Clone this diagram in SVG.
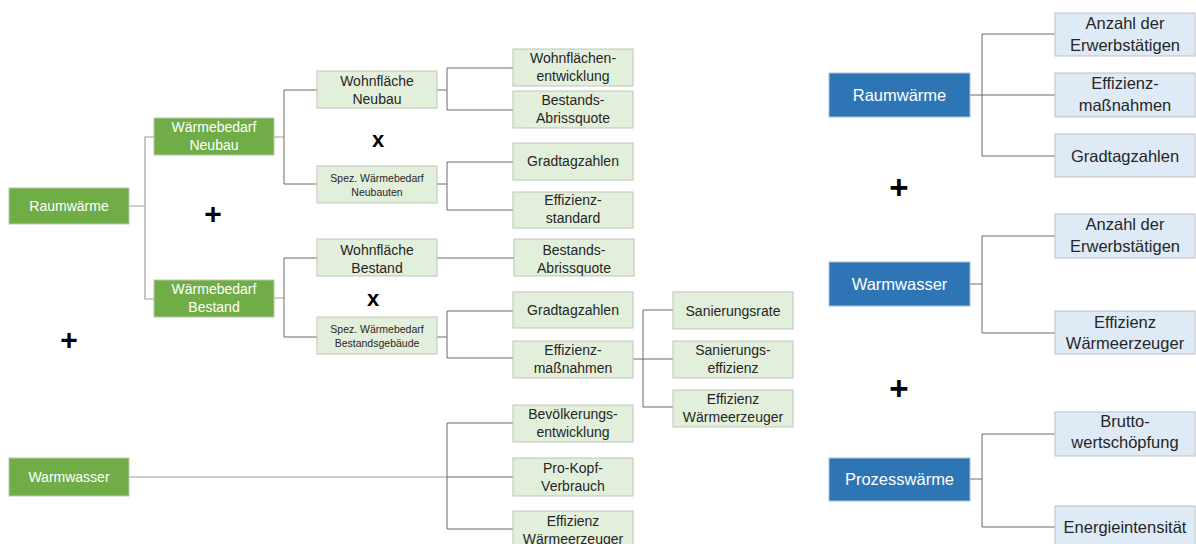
<svg xmlns="http://www.w3.org/2000/svg" width="1196" height="544" viewBox="0 0 1196 544">
<style>
.g{fill:#70AD47;stroke:#B5C9A6;stroke-width:1}
.lg{fill:#E2EFDA;stroke:#BFC4BB;stroke-width:1}
.b{fill:#2E75B6;stroke:#A9C1DA;stroke-width:1}
.lb{fill:#DEEBF7;stroke:#BCC2C8;stroke-width:1}
text{font-family:"Liberation Sans",Arial,sans-serif;text-anchor:middle}
.tw{fill:#FFFFFF;font-size:14px}
.tW{fill:#FFFFFF;font-size:16.5px}
.td{fill:#262626;font-size:14px}
.ts{fill:#262626;font-size:10.5px}
.tD{fill:#262626;font-size:16.5px}
.op{fill:#000000;font-weight:bold}
.c{fill:none;stroke:#6B6B6B;stroke-width:1}
.c2{fill:none;stroke:#A0A0A0;stroke-width:1.2}
</style>
<rect width="1196" height="544" fill="#FFFFFF"/>
<g id="connectors">
<path class="c2" d="M129,206 H145 M154,137 H145 V299 H154"/>
<path class="c2" d="M274,137 H284 M274,298 H284"/>
<path class="c" d="M317,90 H284 V184 H317"/>
<path class="c" d="M437,90 H447 M513,68 H447 V110 H513"/>
<path class="c" d="M437,184 H447 M513,162 H447 V210 H513"/>
<path class="c" d="M317,258 H284 V337 H317"/>
<path class="c" d="M437,258 H514"/>
<path class="c" d="M437,337 H447 M513,311 H447 V358 H513"/>
<path class="c" d="M633,359 H673 M673,310 H643 V407 H673"/>
<path class="c2" d="M129,477 H447"/>
<path class="c" d="M447,477 H513 M513,423 H447 V529 H513"/>
<path class="c" d="M970,95 H1055 M1055,34 H982 V156 H1055"/>
<path class="c" d="M970,284 H982 M1055,236 H982 V333 H1055"/>
<path class="c" d="M970,479 H982 M1055,434 H982 V527 H1055"/>
</g>
<g id="ops">
<text class="op" x="213" y="224" font-size="30">+</text>
<text class="op" x="69" y="350" font-size="30">+</text>
<text class="op" x="899" y="199" font-size="33">+</text>
<text class="op" x="899" y="400" font-size="33">+</text>
<text class="op" x="378" y="147" font-size="22">x</text>
<text class="op" x="373" y="306" font-size="22">x</text>
</g>
<g id="n-raumwaerme"><rect class="g" x="9" y="188" width="120" height="36"/><text class="tw" x="69" y="211">Raumwärme</text></g>
<g id="n-wb-neubau"><rect class="g" x="154" y="118" width="120" height="37"/><text class="tw" x="214" y="132">Wärmebedarf</text><text class="tw" x="214" y="150">Neubau</text></g>
<g id="n-wb-bestand"><rect class="g" x="154" y="280" width="120" height="37"/><text class="tw" x="214" y="294">Wärmebedarf</text><text class="tw" x="214" y="312">Bestand</text></g>
<g id="n-warmwasser"><rect class="g" x="9" y="458" width="120" height="38"/><text class="tw" x="69" y="482">Warmwasser</text></g>
<g id="n-wf-neubau"><rect class="lg" x="317" y="71" width="120" height="37"/><text class="td" x="377" y="86">Wohnfläche</text><text class="td" x="377" y="104">Neubau</text></g>
<g id="n-spez-neubau"><rect class="lg" x="317" y="166" width="120" height="37"/><text class="ts" x="377" y="182">Spez. Wärmebedarf</text><text class="ts" x="377" y="196">Neubauten</text></g>
<g id="n-wf-bestand"><rect class="lg" x="317" y="239" width="120" height="37"/><text class="td" x="377" y="255">Wohnfläche</text><text class="td" x="377" y="273">Bestand</text></g>
<g id="n-spez-bestand"><rect class="lg" x="317" y="317" width="120" height="37"/><text class="ts" x="377" y="333">Spez. Wärmebedarf</text><text class="ts" x="377" y="347">Bestandsgebäude</text></g>
<g id="n-wf-entw"><rect class="lg" x="513" y="49" width="120" height="37"/><text class="td" x="573" y="63">Wohnflächen-</text><text class="td" x="573" y="81">entwicklung</text></g>
<g id="n-abriss1"><rect class="lg" x="513" y="91" width="120" height="37"/><text class="td" x="573" y="105">Bestands-</text><text class="td" x="573" y="123">Abrissquote</text></g>
<g id="n-gtz1"><rect class="lg" x="513" y="143" width="120" height="37"/><text class="td" x="573" y="166">Gradtagzahlen</text></g>
<g id="n-effstd"><rect class="lg" x="513" y="192" width="120" height="36"/><text class="td" x="573" y="205">Effizienz-</text><text class="td" x="573" y="223">standard</text></g>
<g id="n-abriss2"><rect class="lg" x="514" y="239" width="120" height="37"/><text class="td" x="574" y="255">Bestands-</text><text class="td" x="574" y="273">Abrissquote</text></g>
<g id="n-gtz2"><rect class="lg" x="513" y="292" width="120" height="36"/><text class="td" x="573" y="315">Gradtagzahlen</text></g>
<g id="n-effmass"><rect class="lg" x="513" y="341" width="120" height="37"/><text class="td" x="573" y="355">Effizienz-</text><text class="td" x="573" y="373">maßnahmen</text></g>
<g id="n-sanrate"><rect class="lg" x="673" y="292" width="120" height="37"/><text class="td" x="733" y="316">Sanierungsrate</text></g>
<g id="n-saneff"><rect class="lg" x="673" y="341" width="120" height="37"/><text class="td" x="733" y="355">Sanierungs-</text><text class="td" x="733" y="373">effizienz</text></g>
<g id="n-effwe1"><rect class="lg" x="673" y="390" width="120" height="37"/><text class="td" x="733" y="404">Effizienz</text><text class="td" x="733" y="422">Wärmeerzeuger</text></g>
<g id="n-bev"><rect class="lg" x="513" y="405" width="120" height="37"/><text class="td" x="573" y="419">Bevölkerungs-</text><text class="td" x="573" y="437">entwicklung</text></g>
<g id="n-prokopf"><rect class="lg" x="513" y="458" width="120" height="38"/><text class="td" x="573" y="473">Pro-Kopf-</text><text class="td" x="573" y="491">Verbrauch</text></g>
<g id="n-effwe2"><rect class="lg" x="513" y="511" width="120" height="37"/><text class="td" x="573" y="526">Effizienz</text><text class="td" x="573" y="544">Wärmeerzeuger</text></g>
<g id="n-b-raum"><rect class="b" x="829" y="73" width="141" height="44"/><text class="tW" x="899.5" y="101">Raumwärme</text></g>
<g id="n-b-warm"><rect class="b" x="829" y="262" width="141" height="44"/><text class="tW" x="899.5" y="290">Warmwasser</text></g>
<g id="n-b-proz"><rect class="b" x="829" y="458" width="141" height="43"/><text class="tW" x="899.5" y="485">Prozesswärme</text></g>
<g id="n-erw1"><rect class="lb" x="1055" y="13" width="140" height="43"/><text class="tD" x="1125" y="29">Anzahl der</text><text class="tD" x="1125" y="51">Erwerbstätigen</text></g>
<g id="n-effm-r"><rect class="lb" x="1055" y="73" width="140" height="44"/><text class="tD" x="1125" y="89">Effizienz-</text><text class="tD" x="1125" y="111">maßnahmen</text></g>
<g id="n-gtz-r"><rect class="lb" x="1055" y="134" width="140" height="43"/><text class="tD" x="1125" y="162">Gradtagzahlen</text></g>
<g id="n-erw2"><rect class="lb" x="1055" y="214" width="140" height="44"/><text class="tD" x="1125" y="230">Anzahl der</text><text class="tD" x="1125" y="252">Erwerbstätigen</text></g>
<g id="n-effwe-r"><rect class="lb" x="1055" y="311" width="140" height="43"/><text class="tD" x="1125" y="328">Effizienz</text><text class="tD" x="1125" y="349">Wärmeerzeuger</text></g>
<g id="n-bws"><rect class="lb" x="1055" y="412" width="140" height="44"/><text class="tD" x="1125" y="427">Brutto-</text><text class="tD" x="1125" y="448">wertschöpfung</text></g>
<g id="n-ei"><rect class="lb" x="1055" y="506" width="140" height="42"/><text class="tD" x="1125" y="533">Energieintensität</text></g>
</svg>
